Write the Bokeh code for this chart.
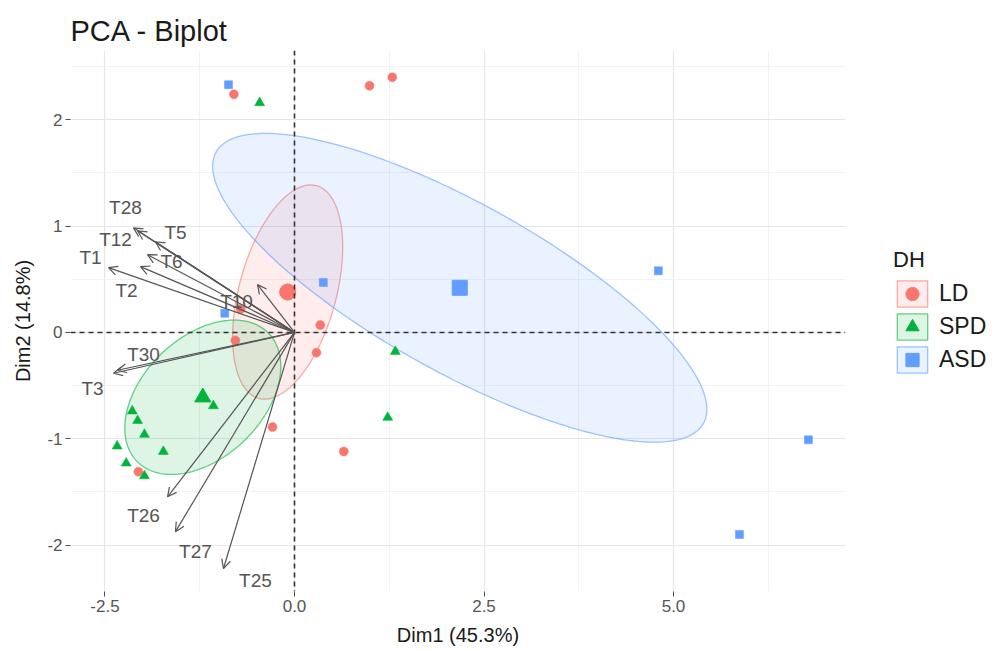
import numpy as np
from bokeh.plotting import figure
from bokeh.layouts import row
from bokeh.models import (ColumnDataSource, Arrow, OpenHead, Span, Legend, LegendItem,
                          FixedTicker, PrintfTickFormatter, Range1d)
from bokeh.embed import file_html
from bokeh.resources import INLINE
from bokeh.core.properties import value

# ---------------- data ----------------
groups = ["LD", "SPD", "ASD"]
colors = ["#F8766D", "#00B43A", "#619CFF"]
markers = ["circle", "triangle", "square"]

ld_x = [-0.80, 0.99, 1.29, 0.34, 0.29, -0.78, -0.29, 0.65, -2.06, -0.71]
ld_y = [2.24, 2.32, 2.40, 0.07, -0.19, -0.075, -0.89, -1.12, -1.31, 0.22]
spd_x = [-2.14, -2.07, -1.98, -2.34, -1.73, -2.22, -1.98, -1.07, -0.46, 1.33, 1.23]
spd_y = [-0.74, -0.83, -0.96, -1.07, -1.12, -1.23, -1.35, -0.69, 2.16, -0.18, -0.80]
asd_x = [-0.87, 0.38, -0.92, 4.80, 6.78, 5.87]
asd_y = [2.33, 0.47, 0.18, 0.58, -1.01, -1.90]

# group means and confidence ellipses (centre + two conjugate semi-diameters)
center_x = [-0.09, -1.21, 2.18]
center_y = [0.38, -0.61, 0.42]
ell_ax = [0.726, 1.029, 3.26]
ell_ay = [0.422, 0.291, -1.143]
ell_bx = [0.0, 0.0, 0.0]
ell_by = [0.915, 0.665, 0.896]

# variable arrows
var_names = ["T28", "T5", "T12", "T6", "T1", "T2", "T10", "T30", "T3", "T26", "T27", "T25"]
var_x = [-2.124, -1.834, -2.071, -1.939, -2.454, -2.032, -0.488, -2.335, -2.388, -1.675, -1.570, -0.937]
var_y = [0.984, 0.853, 0.956, 0.731, 0.609, 0.619, 0.450, -0.356, -0.384, -1.546, -1.874, -2.221]

x_ticks = [-2.5, 0.0, 2.5, 5.0]
x_minor = [-1.25, 1.25, 3.75, 6.25]
y_ticks = [-2, -1, 0, 1, 2]
y_minor = [-1.5, -0.5, 0.5, 1.5, 2.5]

# ---------------- styling (label offsets in screen px) ----------------
lab_dx = [-8, 20, -22, 24, -18, -14, -21, 26, -21, -24, 20, 32]
lab_dy = [-20, -9, 9, 7, -10, 24, 17, -16, 15, 19, 20, 12]

FONT = "Liberation Sans"
W_MAIN, W_LEG, H = 855, 135, 648

p = figure(width=W_MAIN, height=H, output_backend="svg", toolbar_location=None,
           x_range=Range1d(-2.955, 7.269), y_range=Range1d(-2.437, 2.652),
           min_border_left=70, min_border_right=10, min_border_top=50, min_border_bottom=55)
p.outline_line_color = None
p.background_fill_color = "white"

p.title.text = "PCA - Biplot"
p.title.text_font = FONT
p.title.text_font_size = "29px"
p.title.text_font_style = "normal"
p.title.text_color = "#1a1a1a"
p.title.align = "left"
p.title.standoff = 8

for ax, lab in ((p.xaxis[0], "Dim1 (45.3%)"), (p.yaxis[0], "Dim2 (14.8%)")):
    ax.axis_label = lab
    ax.axis_label_text_font = FONT
    ax.axis_label_text_font_size = "20px"
    ax.axis_label_text_font_style = "normal"
    ax.axis_label_text_color = "#1a1a1a"
    ax.axis_line_color = None
    ax.major_tick_line_color = "#4d4d4d"
    ax.major_tick_out = 5
    ax.major_tick_in = 0
    ax.minor_tick_line_color = None
    ax.major_label_text_font = FONT
    ax.major_label_text_font_size = "17px"
    ax.major_label_text_color = "#555555"
    ax.major_label_standoff = 3
p.xaxis.axis_label_standoff = 9
p.yaxis.axis_label_standoff = 10

p.xaxis.ticker = FixedTicker(ticks=x_ticks, minor_ticks=x_minor)
p.yaxis.ticker = FixedTicker(ticks=y_ticks, minor_ticks=y_minor)
p.xaxis.formatter = PrintfTickFormatter(format="%.1f")
p.yaxis.formatter = PrintfTickFormatter(format="%d")
p.xgrid.ticker = FixedTicker(ticks=x_ticks, minor_ticks=x_minor)
p.ygrid.ticker = FixedTicker(ticks=y_ticks, minor_ticks=y_minor)
for g in (p.xgrid[0], p.ygrid[0]):
    g.grid_line_color = "#E6E6E6"
    g.grid_line_width = 1.2
    g.minor_grid_line_color = "#EFEFEF"
    g.minor_grid_line_width = 0.8

# ellipses
t = np.linspace(0, 2 * np.pi, 240)
ell_xs, ell_ys = [], []
for i, g in enumerate(groups):
    ex = center_x[i] + ell_ax[i] * np.cos(t) + ell_bx[i] * np.sin(t)
    ey = center_y[i] + ell_ay[i] * np.cos(t) + ell_by[i] * np.sin(t)
    ell_xs.append(ex)
    ell_ys.append(ey)
    p.patch(ex, ey, fill_color=colors[i], fill_alpha=0.13,
            line_color=colors[i], line_alpha=0.6, line_width=1.3)

# zero lines
p.add_layout(Span(location=0, dimension="height", line_color="#333333",
                  line_dash="5 4", line_width=1.6))
p.add_layout(Span(location=0, dimension="width", line_color="#333333",
                  line_dash="5 4", line_width=1.6))

# individual points
pts = [(ld_x, ld_y, 9), (spd_x, spd_y, 10), (asd_x, asd_y, 8)]
for i, (xs, ys, sz) in enumerate(pts):
    p.scatter(xs, ys, marker=markers[i], size=sz, fill_color=colors[i],
              line_color=colors[i], line_width=0.5)

# group means
for i, g in enumerate(groups):
    p.scatter([center_x[i]], [center_y[i]], marker=markers[i], size=16 if i != 2 else 15,
              fill_color=colors[i], line_color=colors[i])

# arrows
asrc = ColumnDataSource(dict(x0=[0.0] * len(var_x), y0=[0.0] * len(var_y), x1=var_x, y1=var_y))
p.add_layout(Arrow(source=asrc, x_start="x0", y_start="y0", x_end="x1", y_end="y1",
                   line_color="#555555", line_width=1.2,
                   end=OpenHead(size=9, line_color="#555555", line_width=1.2)))

lsrc = ColumnDataSource(dict(x=var_x, y=var_y, text=var_names, dx=lab_dx, dy=lab_dy))
p.text(x="x", y="y", text="text", source=lsrc, x_offset="dx", y_offset="dy",
       text_align="center", text_baseline="middle", text_font=value(FONT),
       text_font_size="19px", text_color="#555555")

# ---------------- legend panel (renderers lie outside its visible range) ----------------
q = figure(width=W_LEG, height=H, output_backend="svg", toolbar_location=None,
           x_range=Range1d(100, 101), y_range=Range1d(100, 101),
           min_border_left=0, min_border_right=0, min_border_top=0, min_border_bottom=0)
q.axis.visible = False
q.grid.visible = False
q.outline_line_color = None
q.title.visible = False

items = []
for i, g in enumerate(groups):
    rp = q.patch(ell_xs[i], ell_ys[i], fill_color=colors[i], fill_alpha=0.13,
                 line_color=colors[i], line_alpha=0.6, line_width=1.3)
    rm = q.scatter([center_x[i]], [center_y[i]], marker=markers[i],
                   fill_color=colors[i], line_color=colors[i])
    items.append(LegendItem(label=g, renderers=[rp, rm]))

legend = Legend(items=items, location=(38, 215), title="DH")
legend.title_text_font = FONT
legend.title_text_font_size = "22px"
legend.title_text_font_style = "normal"
legend.title_text_color = "#1a1a1a"
legend.title_standoff = 4
legend.label_text_font = FONT
legend.label_text_font_size = "23px"
legend.label_text_color = "#1a1a1a"
legend.glyph_width = 38
legend.glyph_height = 33
legend.label_height = 33
legend.spacing = 0
legend.padding = 0
legend.margin = 0
legend.label_standoff = 8
legend.border_line_color = None
legend.background_fill_alpha = 0
q.add_layout(legend)

layout = row(p, q, spacing=0)
open("out.html", "w").write(file_html(layout, INLINE))
